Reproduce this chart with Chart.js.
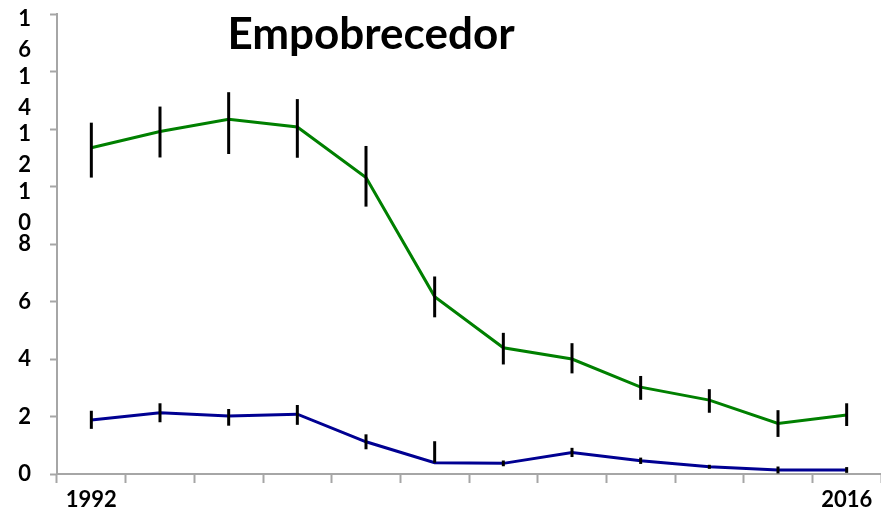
<!DOCTYPE html>
<html>
<head>
<meta charset="utf-8">
<script src="https://cdn.jsdelivr.net/npm/chart.js@4.4.1/dist/chart.umd.min.js"></script>
<style>
  html, body { margin: 0; padding: 0; background: #ffffff; }
  canvas { display: block; }
</style>
</head>
<body>
<canvas id="chart" width="881" height="511"></canvas>
<script>
// Chart text and data
const chartTitle = 'Empobrecedor';
const categories = ['1992', '', '', '', '', '', '', '', '', '', '', '2016'];
const yTickLabels = ['0', '2', '4', '6', '8', '10', '12', '14', '16'];

const greenValues  = [11.35, 11.91, 12.34, 12.07, 10.31, 6.17, 4.39, 4.00, 3.02, 2.57, 1.76, 2.05];
const greenErrUp   = [0.87, 0.87, 0.94, 0.97, 1.10, 0.70, 0.52, 0.55, 0.39, 0.38, 0.46, 0.41];
const greenErrDown = [1.04, 0.90, 1.21, 1.07, 1.01, 0.72, 0.58, 0.50, 0.44, 0.44, 0.47, 0.38];

const blueValues   = [1.88, 2.13, 2.02, 2.08, 1.12, 0.39, 0.37, 0.75, 0.46, 0.25, 0.14, 0.14];
const blueErrUp    = [0.32, 0.33, 0.24, 0.32, 0.26, 0.75, 0.10, 0.16, 0.11, 0.07, 0.12, 0.10];
const blueErrDown  = [0.31, 0.33, 0.34, 0.37, 0.26, 0.00, 0.10, 0.16, 0.11, 0.07, 0.12, 0.10];

const FONT = 'Lato, "Open Sans", sans-serif';
const AXIS_GREY = '#a6a6a6';

// Vertical error whiskers drawn on top of the lines
const errorBars = {
  id: 'errorBars',
  afterDatasetsDraw(chart) {
    const { ctx } = chart;
    const yScale = chart.scales.y;
    ctx.save();
    ctx.strokeStyle = '#000000';
    ctx.lineWidth = 3;
    ctx.lineCap = 'butt';
    chart.data.datasets.forEach((ds, di) => {
      const meta = chart.getDatasetMeta(di);
      meta.data.forEach((pt, i) => {
        const v = ds.data[i];
        const top = yScale.getPixelForValue(v + ds.errUp[i]);
        const bottom = yScale.getPixelForValue(v - ds.errDown[i]);
        ctx.beginPath();
        ctx.moveTo(pt.x, top);
        ctx.lineTo(pt.x, bottom);
        ctx.stroke();
      });
    });
    ctx.restore();
  }
};

// Title sits inside the plot area, above the curves
const titleInPlot = {
  id: 'titleInPlot',
  afterDraw(chart) {
    const { ctx } = chart;
    ctx.save();
    ctx.fillStyle = '#000000';
    ctx.font = 'bold 44px ' + FONT;
    ctx.textAlign = 'center';
    ctx.textBaseline = 'middle';
    ctx.fillText(chartTitle, 371, 35);
    ctx.restore();
  }
};

// Two-digit labels are stacked one digit per line: the tens digit just
// under the tick, the units digit a line below it.
function stackedLabel(text) {
  if (text.length === 1) return text;
  return ['', '', '', '', text[0], '', '', text[1]];
}

new Chart(document.getElementById('chart'), {
  type: 'line',
  data: {
    labels: categories,
    datasets: [
      {
        data: greenValues,
        errUp: greenErrUp,
        errDown: greenErrDown,
        borderColor: '#008000',
        borderWidth: 3,
        pointRadius: 0,
        tension: 0,
        fill: false
      },
      {
        data: blueValues,
        errUp: blueErrUp,
        errDown: blueErrDown,
        borderColor: '#000092',
        borderWidth: 3,
        pointRadius: 0,
        tension: 0,
        fill: false
      }
    ]
  },
  options: {
    responsive: false,
    animation: false,
    layout: { padding: { top: 14, right: 0, left: 0, bottom: 0 } },
    plugins: {
      legend: { display: false },
      title: { display: false },
      tooltip: { enabled: false }
    },
    scales: {
      x: {
        type: 'category',
        offset: true,
        grid: {
          offset: true,
          drawOnChartArea: false,
          drawTicks: true,
          tickLength: 9,
          tickColor: AXIS_GREY,
          tickWidth: 2
        },
        border: { color: AXIS_GREY, width: 2 },
        ticks: {
          autoSkip: false,
          maxRotation: 0,
          padding: 4,
          color: '#000000',
          font: { family: FONT, size: 22, weight: 'bold' }
        },
        afterFit(scale) { scale.height = 37; }
      },
      y: {
        min: 0,
        max: 16,
        grid: {
          drawOnChartArea: false,
          drawTicks: true,
          tickLength: 7,
          tickColor: AXIS_GREY,
          tickWidth: 2
        },
        border: { color: AXIS_GREY, width: 2 },
        ticks: {
          stepSize: 2,
          autoSkip: false,
          crossAlign: 'center',
          padding: 19,
          color: '#000000',
          font: (c) => ({
            family: FONT,
            size: 22,
            weight: 'bold',
            lineHeight: (c.tick && yTickLabels[c.index] && yTickLabels[c.index].length > 1) ? '10.3px' : 1.2
          }),
          callback: (value, index) => stackedLabel(yTickLabels[index])
        },
        afterFit(scale) {
          scale.width = 57;
          scale.paddingTop = 0;
          scale.paddingBottom = 0;
        }
      }
    }
  },
  plugins: [errorBars, titleInPlot]
});
</script>
</body>
</html>
